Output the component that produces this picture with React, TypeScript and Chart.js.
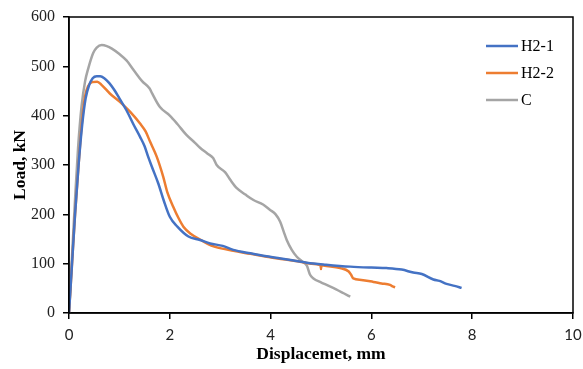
import React, { useEffect, useRef } from "react";
import { Chart, registerables } from "chart.js";

Chart.register(...registerables);

const h21X = [0, 0.06, 0.12, 0.19, 0.26, 0.33, 0.4, 0.47, 0.55, 0.62, 0.7, 0.8, 0.9, 1.0, 1.14, 1.28, 1.41, 1.5, 1.57, 1.65, 1.77, 1.88, 2.0, 2.15, 2.37, 2.6, 2.8, 3.05, 3.26, 3.6, 3.92, 4.3, 4.72, 5.1, 5.58, 6.0, 6.3, 6.6, 6.83, 7.0, 7.23, 7.35, 7.49, 7.65, 7.79];
const h21Y = [0, 100, 200, 300, 380, 435, 462, 476, 480, 480, 476, 466, 452, 435, 411, 382, 357, 338, 317, 295, 263, 228, 195, 175, 155, 148, 141, 136, 128, 121, 115, 109, 102, 98, 94, 92, 91, 88, 82, 79, 68, 65, 59, 55, 51];

const h22X = [0, 0.06, 0.12, 0.19, 0.26, 0.32, 0.38, 0.46, 0.56, 0.65, 0.81, 1.01, 1.21, 1.41, 1.52, 1.61, 1.74, 1.87, 1.95, 2.07, 2.17, 2.27, 2.42, 2.6, 2.75, 2.9, 3.26, 3.6, 3.92, 4.25, 4.58, 4.8, 4.99, 5.0, 5.01, 5.05, 5.38, 5.55, 5.6, 5.64, 5.8, 6.04, 6.2, 6.37, 6.42, 6.47];
const h22Y = [0, 100, 200, 300, 390, 440, 460, 468, 469, 462, 445, 428, 408, 384, 368, 347, 317, 276, 245, 215, 193, 175, 160, 149, 140, 134, 126, 120, 114, 109, 104, 100, 97, 89, 97, 96, 91, 84, 77, 70, 67, 63, 60, 57, 54, 52];

const cX = [0, 0.06, 0.12, 0.18, 0.25, 0.32, 0.38, 0.48, 0.55, 0.65, 0.75, 0.85, 1.0, 1.14, 1.3, 1.45, 1.6, 1.65, 1.8, 2.0, 2.15, 2.33, 2.5, 2.6, 2.75, 2.86, 2.93, 3.1, 3.2, 3.33, 3.5, 3.66, 3.85, 3.99, 4.1, 4.19, 4.26, 4.32, 4.42, 4.52, 4.62, 4.72, 4.78, 4.85, 5.0, 5.11, 5.3, 5.45, 5.58];
const cY = [0, 115, 230, 335, 420, 470, 495, 527, 538, 543, 541, 536, 525, 512, 490, 470, 455, 445, 418, 400, 383, 361, 345, 335, 323, 314, 300, 285, 270, 253, 240, 229, 220, 209, 200, 185, 165, 148, 128, 114, 105, 96, 78, 70, 62, 57, 48, 40, 33];

const seriesNames = ["H2-1", "H2-2", "C"];
const seriesColors = ["#4472C4", "#ED7D31", "#A5A5A5"];

const xTitle = "Displacemet, mm";
const yTitle = "Load, kN";

const FONT = "'Liberation Serif', 'Times New Roman', serif";
const SANS = "Lato, 'Liberation Sans', sans-serif";

function pts(xs: number[], ys: number[]) {
  return xs.map((x, i) => ({ x, y: ys[i] }));
}

const boxPlugin = {
  id: "boxPlugin",
  afterDraw(chart: any) {
    const { ctx, chartArea } = chart;
    ctx.save();
    ctx.strokeStyle = "#000";
    ctx.lineWidth = 1.5;
    ctx.strokeRect(chartArea.left, chartArea.top, chartArea.right - chartArea.left, chartArea.bottom - chartArea.top);
    const ys = [46, 73, 100];
    ctx.font = `16px ${FONT}`;
    ctx.textBaseline = "middle";
    ctx.textAlign = "left";
    seriesNames.forEach((n, i) => {
      ctx.strokeStyle = seriesColors[i];
      ctx.lineWidth = 2.5;
      ctx.beginPath();
      ctx.moveTo(486, ys[i]);
      ctx.lineTo(518, ys[i]);
      ctx.stroke();
      ctx.fillStyle = "#000";
      ctx.fillText(n, 521, ys[i] + 1);
    });
    ctx.restore();
  },
};

export default function App() {
  const ref = useRef<HTMLCanvasElement>(null);
  useEffect(() => {
    const data = [pts(h21X, h21Y), pts(h22X, h22Y), pts(cX, cY)];
    const chart = new Chart(ref.current!, {
      type: "line",
      data: {
        datasets: seriesNames.map((n, i) => ({
          label: n,
          data: data[i],
          borderColor: seriesColors[i],
          backgroundColor: seriesColors[i],
          borderWidth: 2.5,
          pointRadius: 0,
          cubicInterpolationMode: "monotone" as const,
          fill: false,
        })),
      },
      options: {
        animation: false,
        responsive: false,
        layout: { padding: { top: 17, right: 10, left: 0, bottom: 0 } },
        plugins: { legend: { display: false }, tooltip: { enabled: false } },
        scales: {
          x: {
            type: "linear",
            min: 0,
            max: 10,
            ticks: { stepSize: 2, color: "#222", font: { family: SANS, size: 15 }, padding: 7 },
            grid: { display: true, drawOnChartArea: false, drawTicks: true, tickLength: 6, color: "#000", lineWidth: 1.5 },
            border: { display: true, color: "#000", width: 1.5 },
            title: { display: true, text: xTitle, color: "#000", font: { family: FONT, size: 17.5, weight: "bold" }, padding: { top: 2, bottom: 4 } },
            afterFit: (s: any) => { s.height = 56; s.paddingLeft = 0; s.paddingRight = 0; },
          },
          y: {
            type: "linear",
            min: 0,
            max: 600,
            ticks: { stepSize: 100, color: "#222", font: { family: FONT, size: 16 }, padding: 8 },
            grid: { display: true, drawOnChartArea: false, drawTicks: true, tickLength: 6, color: "#000", lineWidth: 1.5 },
            border: { display: true, color: "#000", width: 1.5 },
            title: { display: true, text: yTitle, color: "#000", font: { family: FONT, size: 17.5, weight: "bold" }, padding: { top: 9.5, bottom: 4 } },
            afterFit: (s: any) => { s.width = 69; s.paddingTop = 0; s.paddingBottom = 0; },
          },
        },
      },
      plugins: [boxPlugin],
    });
    return () => chart.destroy();
  }, []);
  return (
    <div style={{ position: "absolute", left: 0, top: 0, width: 583, height: 369, background: "#fff" }}>
      <canvas ref={ref} width={583} height={369} />
    </div>
  );
}
